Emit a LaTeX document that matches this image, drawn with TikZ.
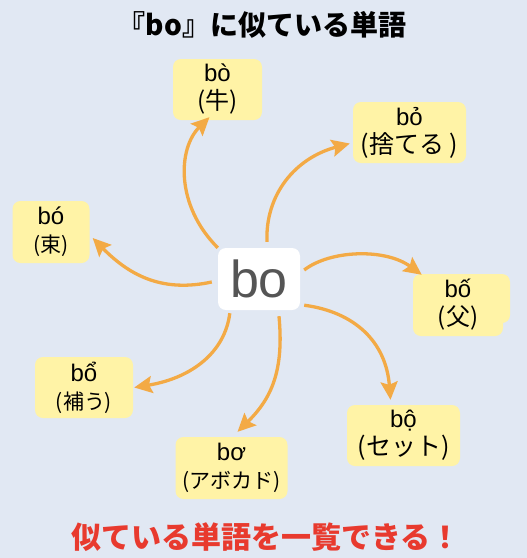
\documentclass[tikz,border=0pt]{standalone}
\usepackage{fontspec}
\setmainfont{Liberation Sans}
\newfontfamily\jp{Noto Sans CJK JP}
\usetikzlibrary{arrows.meta,calc}
\definecolor{bg}{HTML}{E1E8F3}
\definecolor{boxfill}{HTML}{FFF3A6}
\definecolor{arr}{HTML}{F3AA45}
\definecolor{ttlred}{HTML}{E83A2E}
\definecolor{wordgray}{HTML}{555555}
\newcommand{\wl}[4]{\fontsize{#1}{28}\selectfont #2\\\jp\fontsize{#3}{28}\selectfont #4}
\begin{document}
\begin{tikzpicture}[x=1pt,y=-1pt,
  word/.style={fill=boxfill, rounded corners=8pt, inner sep=0pt, align=center, text=black,
    font=\fontsize{24}{28}\selectfont},
  link/.style={draw=arr, line width=3.3pt, -{Stealth[length=18pt,width=17pt,inset=3pt]}},
]
\fill[bg] (0,0) rectangle (527,558);
\useasboundingbox (0,0) rectangle (527,558);

% title
\node (title) at (262,25) {\jp\bfseries\fontsize{28}{32}\selectfont 『bo』に似ている単語};

% centre word
\node[fill=white, rounded corners=8pt, minimum width=82pt, minimum height=62pt, inner sep=0pt,
      text=wordgray] (c) at (259,279) {\fontsize{52}{56}\selectfont bo};

% word boxes
\node[word, minimum width=89pt, minimum height=61pt] (bo1) at (217.5,89.5) {\wl{24}{bò}{24}{(牛)}};
\node[word, minimum width=113pt, minimum height=61pt] (bo2) at (409.5,132.5) {\wl{24}{bỏ}{25}{(捨てる )}};
\node[word, minimum width=77pt, minimum height=62pt] (bo3) at (51,232) {\wl{24}{bó}{21}{(束)}};
\fill[boxfill, rounded corners=8pt] (420,274) rectangle (510,323);
\node[word, minimum width=90pt, minimum height=62pt] (bo4) at (458,305) {\wl{24}{bố}{24}{(父)}};
\node[word, minimum width=98pt, minimum height=61pt] (bo5) at (84,387.5) {\wl{24}{bổ}{21}{(補う)}};
\node[word, minimum width=112pt, minimum height=62pt] (bo6) at (231.5,468) {\wl{24}{bơ}{21}{(アボカド)}};
\node[word, minimum width=113pt, minimum height=61pt] (bo7) at (403.5,435.5) {\wl{24}{bộ}{25}{(セット)}};

% connectors
\draw[link] (c.north west) .. controls (175,205) and (178,148) .. ($(bo1.south)+(-8,-3)$);
\draw[link] ($(c.north)+(8,-6)$) .. controls (265,195) and (295,158) .. ($(bo2.west)+(-3,11)$);
\draw[link] ($(c.west)+(-6,3)$) .. controls (165,292) and (132,278) .. ($(bo3.east)+(3,6)$);
\draw[link] ($(c.east)+(4,-9)$) .. controls (330,250) and (385,248) .. ($(bo4.north west)+(9,1)$);
\draw[link] ($(c.south west)+(12,3)$) .. controls (225,352) and (192,378) .. ($(bo5.east)+(1,0)$);
\draw[link] ($(c.south)+(20,6)$) .. controls (284,370) and (272,398) .. ($(bo6.north)+(6,-5)$);
\draw[link] ($(c.south east)+(4,-5)$) .. controls (355,312) and (386,342) .. ($(bo7.north)+(-13,-5)$);

% footer
\node[text=ttlred] (foot) at (266,537) {\jp\bfseries\fontsize{30}{34}\selectfont 似ている単語を一覧できる！};
\end{tikzpicture}
\end{document}
